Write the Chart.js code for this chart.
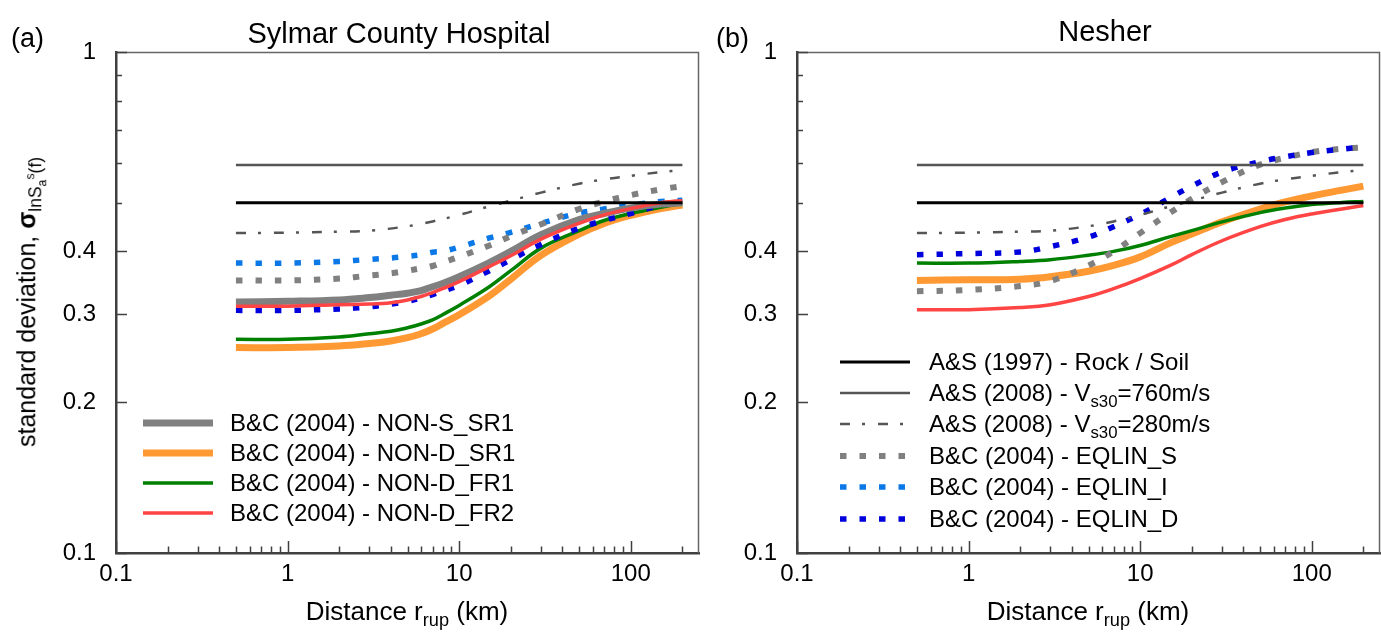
<!DOCTYPE html>
<html lang="en">
<head>
<meta charset="UTF-8">
<title>Standard deviation vs distance</title>
<script src="https://cdn.jsdelivr.net/npm/chart.js@4.4.1/dist/chart.umd.min.js"></script>
<style>
    body { margin: 0; background: #fff; }
    #page { position: relative; width: 1381px; height: 634px; overflow: hidden;
            font-family: "Liberation Sans", Arial, sans-serif; color: #000; }
    canvas { position: absolute; top: 0; }
    #chartA { left: 0; }
    #chartB { left: 700px; }
    .lbl { position: absolute; white-space: nowrap; line-height: 1; }
    .title { font-size: 29px; transform: translateX(-50%); }
    .tag { font-size: 27px; }
    .xtitle { font-size: 26px; transform: translateX(-50%); }
    .ytitle { font-size: 25px; transform: translate(-50%, -50%) rotate(-90deg); }
    sub, sup { font-size: 0.7em; line-height: 0; }
    .legend { position: absolute; font-size: 24px; line-height: 1; }
    .legend .row { display: flex; align-items: center; white-space: nowrap; }
    .legend svg { flex: none; }
</style>
</head>
<body>
<div id="page">
    <canvas id="chartA" width="700" height="634"></canvas>
    <canvas id="chartB" width="681" height="634"></canvas>

    <div class="lbl tag" style="left:11px; top:25px">(a)</div>
    <div class="lbl title" style="left:399px; top:19px">Sylmar County Hospital</div>
    <div class="lbl tag" style="left:716px; top:25px">(b)</div>
    <div class="lbl title" style="left:1105px; top:17px">Nesher</div>

    <div class="lbl xtitle" style="left:407px; top:598px">Distance r<sub>rup</sub> (km)</div>
    <div class="lbl xtitle" style="left:1088px; top:598px">Distance r<sub>rup</sub> (km)</div>
    <div class="lbl ytitle" style="left:28px; top:302px">standard deviation, <b>σ</b><sub>lnS<sub>a</sub><sup>s</sup>(f)</sub></div>

    <div class="legend" id="legendA" style="left:143px; top:408px"></div>
    <div class="legend" id="legendB" style="left:840px; top:346px"></div>
</div>

<script>
    var distances = [0.5, 1, 2, 3, 5, 7, 10, 15, 20, 30, 50, 70, 100, 150, 200];
    var sylDistances = [0.5, 1, 2, 3, 4, 5, 6, 7, 8, 10, 15, 20, 30, 50, 70, 100, 150, 200];
    var lineEnds = [0.5, 200];

    // Abrahamson & Silva models (same for both sites)
    var asRock1997 = [0.5, 0.5];
    var as2008Vs760 = [0.595, 0.595];
    var as2008Vs280 = [0.435, 0.436, 0.438, 0.440, 0.449, 0.459, 0.473, 0.492, 0.505, 0.524, 0.546, 0.557, 0.566, 0.576, 0.581];

    // Sylmar County Hospital (on sylDistances)
    var sylNonS_SR1 = [0.317, 0.318, 0.320, 0.3235, 0.327, 0.330, 0.334, 0.340, 0.345, 0.356, 0.380, 0.400, 0.432, 0.463, 0.476, 0.488, 0.497, 0.500];
    var sylNonD_SR1 = [0.257, 0.257, 0.259, 0.262, 0.265, 0.269, 0.274, 0.280, 0.287, 0.299, 0.326, 0.352, 0.393, 0.433, 0.455, 0.472, 0.487, 0.495];
    var sylNonD_FR1 = [0.267, 0.267, 0.270, 0.274, 0.277, 0.2815, 0.2865, 0.292, 0.299, 0.312, 0.340, 0.366, 0.406, 0.440, 0.461, 0.476, 0.490, 0.499];
    var sylNonD_FR2 = [0.311, 0.311, 0.313, 0.314, 0.316, 0.320, 0.325, 0.331, 0.337, 0.348, 0.373, 0.392, 0.423, 0.455, 0.473, 0.487, 0.500, 0.505];
    var sylEqlinS = [0.350, 0.350, 0.353, 0.358, 0.3615, 0.366, 0.370, 0.374, 0.380, 0.390, 0.411, 0.429, 0.453, 0.486, 0.503, 0.518, 0.532, 0.540];
    var sylEqlinI = [0.379, 0.379, 0.382, 0.3855, 0.388, 0.391, 0.394, 0.3985, 0.400, 0.408, 0.4255, 0.4365, 0.455, 0.477, 0.486, 0.495, 0.503, 0.506];
    var sylEqlinD = [0.305, 0.305, 0.307, 0.310, 0.314, 0.318, 0.323, 0.328, 0.333, 0.342, 0.366, 0.385, 0.413, 0.445, 0.461, 0.476, 0.494, 0.500];

    // Nesher (on distances)
    var nesNonD_SR1 = [0.350, 0.351, 0.352, 0.356, 0.365, 0.375, 0.390, 0.416, 0.433, 0.458, 0.486, 0.502, 0.516, 0.530, 0.540];
    var nesNonD_FR1 = [0.379, 0.379, 0.382, 0.385, 0.393, 0.400, 0.411, 0.428, 0.440, 0.458, 0.478, 0.488, 0.496, 0.501, 0.503];
    var nesNonD_FR2 = [0.306, 0.306, 0.309, 0.313, 0.325, 0.337, 0.353, 0.375, 0.394, 0.420, 0.448, 0.463, 0.475, 0.486, 0.494];
    var nesEqlinS = [0.333, 0.335, 0.341, 0.349, 0.375, 0.400, 0.435, 0.478, 0.509, 0.550, 0.596, 0.615, 0.631, 0.641, 0.645];
    var nesEqlinD = [0.394, 0.396, 0.399, 0.409, 0.427, 0.448, 0.474, 0.512, 0.540, 0.576, 0.604, 0.618, 0.630, 0.640, 0.646];

    // axis ticks
    var xTickValues = [0.1, 0.2, 0.3, 0.4, 0.5, 0.6, 0.7, 0.8, 0.9, 1, 2, 3, 4, 5, 6, 7, 8, 9,
                       10, 20, 30, 40, 50, 60, 70, 80, 90, 100, 200];
    var xTickLabels = [0.1, 1, 10, 100];
    var yTickValues = [0.1, 0.2, 0.3, 0.4, 0.5, 0.6, 0.7, 0.8, 0.9, 1];
    var yTickLabels = [0.1, 0.2, 0.3, 0.4, 1];

    var styles = {
        asRock:   { borderColor: '#000000', borderWidth: 3 },
        as760:    { borderColor: '#555555', borderWidth: 2.5 },
        as280:    { borderColor: '#555555', borderWidth: 2.5, borderDash: [10, 12, 3, 13] },
        eqlinS:   { borderColor: '#808080', borderWidth: 6, borderDash: [6.5, 13] },
        eqlinI:   { borderColor: '#0a78e6', borderWidth: 5.5, borderDash: [6.5, 13] },
        eqlinD:   { borderColor: '#0000dd', borderWidth: 5.5, borderDash: [6.5, 13] },
        nonS_SR1: { borderColor: '#808080', borderWidth: 7 },
        nonD_SR1: { borderColor: '#ff9933', borderWidth: 7 },
        nonD_FR1: { borderColor: '#008000', borderWidth: 3.5 },
        nonD_FR2: { borderColor: '#ff4444', borderWidth: 3.5 }
    };

    var legendA = [
        ['nonS_SR1', 'B&amp;C (2004) - NON-S_SR1'],
        ['nonD_SR1', 'B&amp;C (2004) - NON-D_SR1'],
        ['nonD_FR1', 'B&amp;C (2004) - NON-D_FR1'],
        ['nonD_FR2', 'B&amp;C (2004) - NON-D_FR2']
    ];
    var legendB = [
        ['asRock', 'A&amp;S (1997) - Rock / Soil'],
        ['as760', 'A&amp;S (2008) - V<sub>s30</sub>=760m/s'],
        ['as280', 'A&amp;S (2008) - V<sub>s30</sub>=280m/s'],
        ['eqlinS', 'B&amp;C (2004) - EQLIN_S'],
        ['eqlinI', 'B&amp;C (2004) - EQLIN_I'],
        ['eqlinD', 'B&amp;C (2004) - EQLIN_D']
    ];

    function series(key, label, xs, ys) {
        var d = {
            label: label,
            data: xs.map(function (x, i) { return { x: x, y: ys[i] }; }),
            pointRadius: 0,
            fill: false,
            tension: 0.4,
            borderCapStyle: 'butt'
        };
        return Object.assign(d, styles[key]);
    }

    // small inward tick marks plus the top/right frame
    var innerTicks = {
        id: 'innerTicks',
        afterDraw: function (chart) {
            var ctx = chart.ctx, a = chart.chartArea;
            var x = chart.scales.x, y = chart.scales.y;
            ctx.save();
            ctx.strokeStyle = '#666666';
            ctx.lineWidth = 1.5;
            ctx.beginPath();
            ctx.moveTo(a.left, a.top + 0.5);
            ctx.lineTo(a.right - 0.5, a.top + 0.5);
            ctx.lineTo(a.right - 0.5, a.bottom);
            ctx.stroke();

            ctx.strokeStyle = '#404040';
            ctx.beginPath();
            xTickValues.forEach(function (v) {
                var px = Math.round(x.getPixelForValue(v)) + 0.5;
                var len = xTickLabels.indexOf(v) >= 0 ? 12 : 6.5;
                ctx.moveTo(px, a.bottom);
                ctx.lineTo(px, a.bottom - len);
            });
            yTickValues.forEach(function (v) {
                var py = Math.round(y.getPixelForValue(v)) + 0.5;
                var len = yTickLabels.indexOf(v) >= 0 ? 11 : 6;
                ctx.moveTo(a.left, py);
                ctx.lineTo(a.left + len, py);
            });
            ctx.stroke();
            ctx.restore();
        }
    };

    function makeOptions(yWidth) {
        var tickFont = { family: '"Liberation Sans", Arial, sans-serif', size: 24 };
        return {
            responsive: false,
            animation: false,
            layout: { padding: { top: 52, right: 1, left: 0, bottom: 0 } },
            plugins: { legend: { display: false }, tooltip: { enabled: false } },
            scales: {
                x: {
                    type: 'logarithmic',
                    min: 0.1,
                    max: 250,
                    afterBuildTicks: function (s) { s.ticks = xTickValues.map(function (v) { return { value: v }; }); },
                    afterFit: function (s) { s.height = 81; },
                    grid: { display: false, drawTicks: false },
                    border: { display: true, color: '#404040', width: 2.5 },
                    ticks: {
                        autoSkip: false, maxRotation: 0, padding: 7, color: '#000', font: tickFont,
                        callback: function (v) { return xTickLabels.indexOf(v) >= 0 ? String(v) : ''; }
                    }
                },
                y: {
                    type: 'logarithmic',
                    min: 0.1,
                    max: 1,
                    afterBuildTicks: function (s) { s.ticks = yTickValues.map(function (v) { return { value: v }; }); },
                    afterFit: function (s) { s.width = yWidth; },
                    grid: { display: false, drawTicks: false },
                    border: { display: true, color: '#404040', width: 2.5 },
                    ticks: {
                        autoSkip: false, padding: 20, color: '#000', font: tickFont,
                        callback: function (v) { return yTickLabels.indexOf(v) >= 0 ? String(v) : ''; }
                    }
                }
            }
        };
    }

    // first dataset is drawn on top
    new Chart(document.getElementById('chartA'), {
        type: 'line',
        data: {
            datasets: [
                series('asRock', 'A&S (1997) - Rock / Soil', lineEnds, asRock1997),
                series('as760', 'A&S (2008) - Vs30=760m/s', lineEnds, as2008Vs760),
                series('as280', 'A&S (2008) - Vs30=280m/s', distances, as2008Vs280),
                series('nonD_FR2', 'B&C (2004) - NON-D_FR2', sylDistances, sylNonD_FR2),
                series('nonS_SR1', 'B&C (2004) - NON-S_SR1', sylDistances, sylNonS_SR1),
                series('eqlinD', 'B&C (2004) - EQLIN_D', sylDistances, sylEqlinD),
                series('nonD_FR1', 'B&C (2004) - NON-D_FR1', sylDistances, sylNonD_FR1),
                series('nonD_SR1', 'B&C (2004) - NON-D_SR1', sylDistances, sylNonD_SR1),
                series('eqlinS', 'B&C (2004) - EQLIN_S', sylDistances, sylEqlinS),
                series('eqlinI', 'B&C (2004) - EQLIN_I', sylDistances, sylEqlinI)
            ]
        },
        options: makeOptions(116),
        plugins: [innerTicks]
    });

    new Chart(document.getElementById('chartB'), {
        type: 'line',
        data: {
            datasets: [
                series('asRock', 'A&S (1997) - Rock / Soil', lineEnds, asRock1997),
                series('as760', 'A&S (2008) - Vs30=760m/s', lineEnds, as2008Vs760),
                series('as280', 'A&S (2008) - Vs30=280m/s', distances, as2008Vs280),
                series('eqlinD', 'B&C (2004) - EQLIN_D', distances, nesEqlinD),
                series('eqlinS', 'B&C (2004) - EQLIN_S', distances, nesEqlinS),
                series('nonD_FR1', 'B&C (2004) - NON-D_FR1', distances, nesNonD_FR1),
                series('nonD_FR2', 'B&C (2004) - NON-D_FR2', distances, nesNonD_FR2),
                series('nonD_SR1', 'B&C (2004) - NON-D_SR1', distances, nesNonD_SR1)
            ]
        },
        options: makeOptions(97),
        plugins: [innerTicks]
    });

    function buildLegend(id, entries, rowHeight, gap) {
        var html = '';
        entries.forEach(function (e) {
            var st = styles[e[0]];
            var dash = st.borderDash ? ' stroke-dasharray="' + st.borderDash.join(' ') + '"' : '';
            html += '<div class="row" style="height:' + rowHeight + 'px">' +
                '<svg width="70" height="14"><line x1="0" y1="7" x2="70" y2="7" stroke="' + st.borderColor +
                '" stroke-width="' + st.borderWidth + '"' + dash + '/></svg>' +
                '<span style="margin-left:' + gap + 'px">' + e[1] + '</span></div>';
        });
        document.getElementById(id).innerHTML = html;
    }
    buildLegend('legendA', legendA, 30, 17);
    buildLegend('legendB', legendB, 31.4, 19);
</script>
</body>
</html>
